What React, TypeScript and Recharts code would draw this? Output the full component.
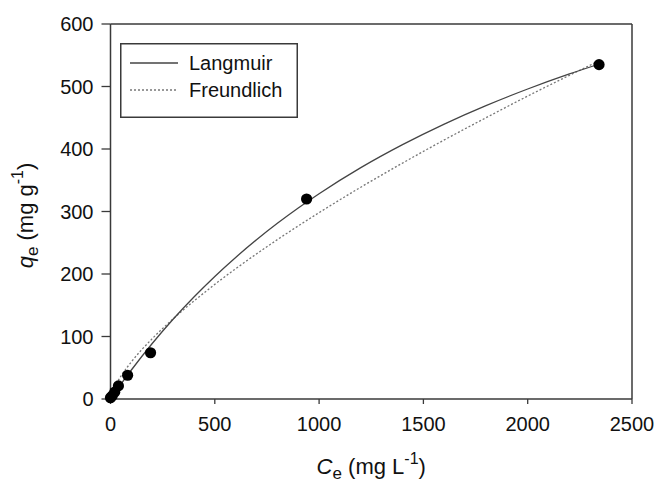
import React from 'react';
import { ComposedChart, XAxis, YAxis, Line, Scatter, Legend, ReferenceLine, Label } from 'recharts';

// Tick labels
const xTicks = [0, 500, 1000, 1500, 2000, 2500];
const yTicks = [0, 100, 200, 300, 400, 500, 600];

// Observed equilibrium data
const obsCe = [0, 8, 20, 38, 82, 192, 940, 2342];
const obsQe = [2, 5, 11, 21, 38, 74, 320, 535];

// Langmuir fitted curve
const langCe = [0, 50, 100, 200, 300, 400, 500, 600, 700, 800, 900, 1000, 1200, 1400, 1600, 1800, 2000, 2200, 2340];
const langQe = [0, 23.8, 46.4, 88.8, 127.6, 163.2, 196.1, 226.5, 254.8, 281.1, 305.6, 328.5, 370.2, 407.0, 439.9, 469.4, 496.0, 520.1, 535.6];

// Freundlich fitted curve
const freCe = [0, 10, 25, 50, 100, 200, 300, 400, 500, 600, 800, 1000, 1200, 1400, 1600, 1800, 2000, 2200, 2345];
const freQe = [0, 11.8, 22.5, 36.5, 59.4, 96.5, 128.2, 156.8, 183.4, 208.4, 255.0, 298.2, 338.9, 377.5, 414.5, 450.0, 484.7, 517.9, 541.5];

const obsData = obsCe.map((c, i) => ({ x: c, y: obsQe[i] }));
const langData = langCe.map((c, i) => ({ x: c, y: langQe[i] }));
const freData = freCe.map((c, i) => ({ x: c, y: freQe[i] }));

const FONT = '"Liberation Sans", Arial, Helvetica, sans-serif';
const AXIS = '#3a3a3a';

const Dot = (props: any) => <circle cx={props.cx} cy={props.cy} r={5.6} fill="#000" />;

const renderLegend = () => (
  <svg width={178} height={75} style={{ display: 'block', overflow: 'visible' }}>
    <rect x={0.75} y={0.75} width={176.5} height={73.5} fill="#fff" stroke={AXIS} strokeWidth={1.5} />
    <line x1={10} x2={58} y1={20} y2={20} stroke="#444" strokeWidth={1.3} />
    <text x={69} y={27} fontSize={20} fontFamily={FONT} fill="#111">Langmuir</text>
    <line x1={10} x2={58} y1={47} y2={47} stroke="#777" strokeWidth={1.3} strokeDasharray="2 2" />
    <text x={69} y={54} fontSize={20} fontFamily={FONT} fill="#111">Freundlich</text>
  </svg>
);

const XTitle = (props: any) => {
  const vb = props.viewBox || { x: 110, width: 522, y: 399 };
  const cx = vb.x + vb.width / 2;
  return (
    <text x={cx} y={474} textAnchor="middle" fontSize={22} fontFamily={FONT} fill="#111">
      <tspan fontStyle="italic">C</tspan>
      <tspan fontSize={17} dy={5}>e</tspan>
      <tspan dy={-5}> (mg L</tspan>
      <tspan fontSize={16} dy={-10}>-1</tspan>
      <tspan dy={10}>)</tspan>
    </text>
  );
};

const YTitle = (props: any) => {
  const vb = props.viewBox || { y: 24, height: 375 };
  const cy = vb.y + vb.height / 2 + 4;
  return (
    <text transform={`translate(33, ${cy}) rotate(-90)`} textAnchor="middle" fontSize={22} fontFamily={FONT} fill="#111">
      <tspan fontStyle="italic">q</tspan>
      <tspan fontSize={17} dy={5}>e</tspan>
      <tspan dy={-5}> (mg g</tspan>
      <tspan fontSize={16} dy={-10}>-1</tspan>
      <tspan dy={10}>)</tspan>
    </text>
  );
};

export default function App() {
  return (
    <div style={{ position: 'absolute', left: 0, top: 0, width: 655, height: 486, background: '#fff', fontFamily: FONT }}>
      <ComposedChart width={655} height={486} margin={{ top: 24, right: 23, bottom: 47, left: 30.5 }}>
        <XAxis
          type="number"
          dataKey="x"
          domain={[0, 2500]}
          ticks={xTicks}
          height={40}
          tickSize={5}
          tickMargin={13}
          axisLine={{ stroke: AXIS, strokeWidth: 1.5 }}
          tickLine={{ stroke: AXIS, strokeWidth: 1.3 }}
          tick={{ fontSize: 20, fill: '#111', fontFamily: FONT }}
        >
          <Label content={<XTitle />} />
        </XAxis>
        <YAxis
          type="number"
          dataKey="y"
          domain={[0, 600]}
          ticks={yTicks}
          width={80}
          tickSize={9}
          tickMargin={8}
          axisLine={{ stroke: AXIS, strokeWidth: 1.5 }}
          tickLine={{ stroke: AXIS, strokeWidth: 1.3 }}
          tick={{ fontSize: 20, fill: '#111', fontFamily: FONT }}
        >
          <Label content={<YTitle />} />
        </YAxis>
        <ReferenceLine y={600} stroke={AXIS} strokeWidth={1.5} />
        <ReferenceLine x={2500} stroke={AXIS} strokeWidth={1.5} />
        <Line data={freData} dataKey="y" type="monotone" stroke="#777" strokeWidth={1.3} strokeDasharray="2 2" dot={false} isAnimationActive={false} />
        <Line data={langData} dataKey="y" type="monotone" stroke="#444" strokeWidth={1.3} dot={false} isAnimationActive={false} />
        <Scatter data={obsData} dataKey="y" shape={<Dot />} isAnimationActive={false} />
        <Legend
          layout="vertical"
          align="center"
          verticalAlign="middle"
          content={renderLegend}
          wrapperStyle={{ left: 120, top: 43, width: 178, height: 75 }}
        />
      </ComposedChart>
    </div>
  );
}
